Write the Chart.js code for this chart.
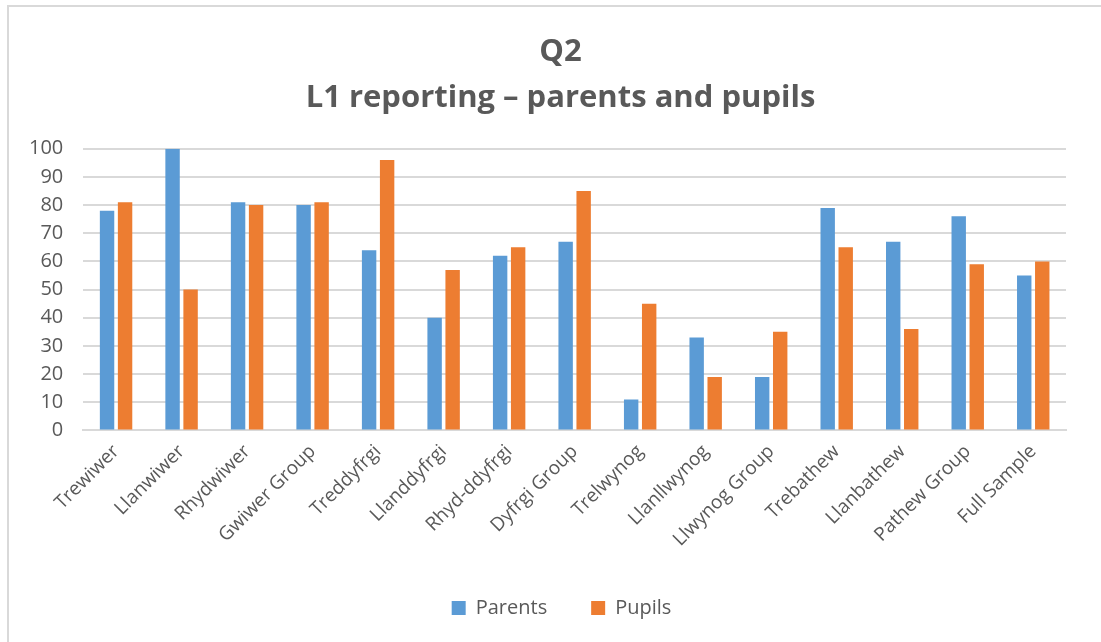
<!DOCTYPE html>
<html>
<head>
<meta charset="utf-8">
<script src="https://cdn.jsdelivr.net/npm/chart.js@4"></script>
<style>
  html, body { margin: 0; padding: 0; background: #fff; overflow: hidden; }
  #frame {
    position: absolute; left: 7px; top: 5px;
    width: 1100px; height: 640px;
    border-left: 2px solid #d9d9d9; border-top: 2px solid #d9d9d9;
  }
  #chart-box { position: absolute; left: 0; top: 0; width: 1092px; height: 635px; }
</style>
</head>
<body>
<div id="frame"><div id="chart-box"><canvas id="q2Chart"></canvas></div></div>
<script>
const schools = ['Trewiwer','Llanwiwer','Rhydwiwer','Gwiwer Group','Treddyfrgi','Llanddyfrgi','Rhyd-ddyfrgi','Dyfrgi Group','Trelwynog','Llanllwynog','Llwynog Group','Trebathew','Llanbathew','Pathew Group','Full Sample'];
const parents = [78,100,81,80,64,40,62,67,11,33,19,79,67,76,55];
const pupils  = [81,50,80,81,96,57,65,85,45,19,35,65,36,59,60];
const titleLines = ['Q2','L1 reporting \u2013 parents and pupils'];

const textCol = '#595959';
const gridCol = '#d9d9d9';
const fontFam = "'Open Sans', 'Noto Sans', sans-serif";

// nudge title and legend a bit right, like the excel original
const shiftBlocks = {
    id: 'shiftBlocks',
    afterLayout(chart) {
        const t = chart.titleBlock, l = chart.legend;
        if (t) { t.left += 23; t.right += 23; }
        if (l) { l.left += 24; l.right += 24; }
    }
};

const ctx = document.getElementById('q2Chart');
new Chart(ctx, {
    type: 'bar',
    data: {
        labels: schools,
        datasets: [{
            label: 'Parents',
            data: parents,
            backgroundColor: '#5b9bd5',
            borderWidth: 0,
            categoryPercentage: 0.55,
            barPercentage: 0.8
        }, {
            label: 'Pupils',
            data: pupils,
            backgroundColor: '#ed7d31',
            borderWidth: 0,
            categoryPercentage: 0.55,
            barPercentage: 0.8
        }]
    },
    options: {
        responsive: true,
        maintainAspectRatio: false,
        animation: false,
        layout: { padding: { left: 0, right: 35, top: 10, bottom: 14 } },
        scales: {
            x: {
                grid: { display: false, drawTicks: false },
                border: { color: gridCol, width: 2 },
                ticks: {
                    color: textCol,
                    font: { family: fontFam, size: 19 },
                    maxRotation: 45, minRotation: 45,
                    padding: 10,
                    autoSkip: false
                },
                afterFit: (axis) => { axis.height -= 7; }
            },
            y: {
                min: 0, max: 100,
                grid: { color: gridCol, lineWidth: 2, drawTicks: false },
                border: { display: false },
                ticks: {
                    stepSize: 10,
                    color: textCol,
                    font: { family: fontFam, size: 20 },
                    padding: 20
                }
            }
        },
        plugins: {
            title: {
                display: true,
                text: titleLines,
                color: textCol,
                font: { family: fontFam, size: 31, weight: 'bold', lineHeight: 1.48 },
                padding: { top: 12, bottom: 28 }
            },
            legend: {
                position: 'bottom',
                labels: {
                    color: textCol,
                    font: { family: fontFam, size: 20 },
                    boxWidth: 14, boxHeight: 14,
                    padding: 44
                }
            },
            tooltip: { enabled: false }
        }
    },
    plugins: [shiftBlocks]
});
</script>
</body>
</html>
